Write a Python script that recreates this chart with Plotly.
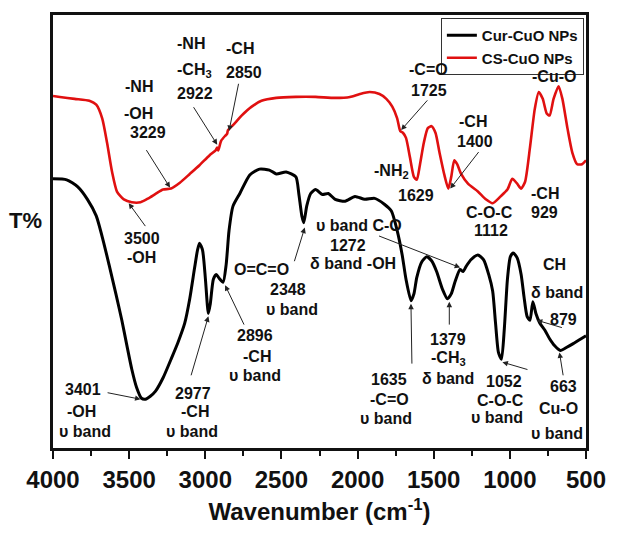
import plotly.graph_objects as go

# ---------------- data (wavenumber in cm-1, transmittance in arbitrary units) ----------------
red_wn = [4000, 3955, 3858, 3761, 3716, 3677, 3645, 3612, 3580, 3535, 3483, 3425, 3374, 3322, 3277,
          3225, 3167, 3102, 3038, 2973, 2934, 2922, 2915, 2896, 2870, 2857, 2851, 2818, 2760, 2695,
          2631, 2534, 2405, 2276, 2147, 2050, 1985, 1920, 1856, 1811, 1772, 1740, 1720, 1701, 1682,
          1656, 1630, 1611, 1591, 1565, 1539, 1514, 1488, 1462, 1430, 1404, 1385, 1365, 1346, 1320,
          1275, 1210, 1158, 1113, 1061, 1016, 984, 952, 926, 900, 868, 836, 810, 784, 758, 739, 713,
          680, 655, 622, 590, 558, 526, 500]
red_t = [361, 360, 358, 356, 352, 338, 313, 283, 263, 255, 252, 252, 256, 261, 265,
         266, 272, 281, 290, 300, 305, 308, 305, 315, 320, 322, 326, 331, 341, 350,
         356, 359, 360, 360, 359, 360, 363, 365, 363, 358, 350, 338, 325, 323, 318,
         298, 278, 275, 290, 313, 328, 330, 323, 303, 280, 266, 278, 295, 291, 281,
         271, 263, 255, 251, 258, 265, 276, 271, 266, 273, 308, 348, 365, 358, 343, 341, 358,
         371, 358, 328, 303, 291, 291, 295]

black_wn = [4000, 3910, 3839, 3774, 3716, 3671, 3632, 3587, 3548, 3516, 3483, 3451, 3419, 3393, 3361,
            3328, 3277, 3225, 3180, 3135, 3102, 3070, 3051, 3038, 3018, 2999, 2980, 2967, 2947, 2928,
            2909, 2883, 2863, 2844, 2818, 2773, 2708, 2644, 2579, 2534, 2469, 2405, 2386, 2366, 2353,
            2334, 2308, 2276, 2231, 2192, 2147, 2082, 2017, 1953, 1888, 1824, 1778, 1740, 1707, 1682,
            1649, 1630, 1611, 1578, 1546, 1514, 1481, 1443, 1410, 1385, 1359, 1327, 1307, 1288, 1256,
            1210, 1172, 1139, 1113, 1094, 1075, 1055, 1036, 1016, 997, 978, 952, 926, 907, 887, 868,
            849, 829, 803, 771, 739, 707, 668, 629, 584, 532, 500]
black_t = [276, 275, 268, 255, 238, 213, 188, 158, 131, 106, 81, 62, 51, 50, 53,
           58, 72, 91, 108, 128, 153, 185, 203, 210, 203, 173, 138, 148, 173, 178,
           174, 170, 188, 223, 248, 261, 280, 286, 285, 281, 283, 278, 261, 238, 231,
           248, 261, 265, 260, 261, 255, 253, 258, 255, 256, 250, 243, 223, 198, 173,
           151, 158, 175, 191, 196, 192, 181, 163, 153, 158, 171, 183, 181, 186, 193,
           198, 193, 178, 161, 128, 98, 91, 123, 173, 196, 200, 195, 178, 155, 135, 131,
           150, 138, 128, 121, 112, 105, 100, 103, 107, 112, 115]

series_names = ["Cur-CuO NPs", "CS-CuO NPs"]
x_tickvals = [4000, 3500, 3000, 2500, 2000, 1500, 1000, 500]

# ---------------- helpers for label placement (pixel -> data) ----------------
L, R, T, B = 53, 595, 14, 458
def WX(px):
    return 4000 - (px - L) * 3500.0 / (R - L)
def WY(py):
    return B - py

FONT = "Liberation Sans, Arial, sans-serif"

fig = go.Figure()
fig.add_trace(go.Scatter(x=black_wn, y=black_t, mode="lines", name=series_names[0],
                         line=dict(color="black", width=3, shape="spline", smoothing=0.6)))
fig.add_trace(go.Scatter(x=red_wn, y=red_t, mode="lines", name=series_names[1],
                         line=dict(color="#e01010", width=2.6, shape="spline", smoothing=0.6)))

labels = [
    # red curve
    ("-NH", 140, 87), ("-OH", 140, 115), ("3229", 150, 134),
    ("-NH", 193, 43), ("-CH<sub>3</sub>", 197, 71), ("2922", 197, 95),
    ("-CH", 243, 48), ("2850", 247, 73),
    ("3500", 143, 243), ("-OH", 143, 263),
    ("-C=O", 435, 70), ("1725", 435, 91),
    ("-NH<sub>2</sub>", 397, 174), ("1629", 422, 199),
    ("-CH", 480, 123), ("1400", 482, 144),
    ("C-O-C", 497, 217), ("1112", 498, 235),
    ("-CH", 553, 197), ("929", 553, 216),
    ("-Cu-O", 562, 77),
    # black curve
    ("O=C=O", 265, 275), ("2348", 292, 295), ("υ band", 296, 316),
    ("υ band C-O", 364, 230), ("1272", 353, 250), ("δ band -OH", 358, 269),
    ("1635", 395, 388), ("-C=O", 395, 408), ("υ band", 392, 428),
    ("1379", 455, 347), ("-CH<sub>3</sub>", 455, 366), ("δ band", 455, 387),
    ("1052", 512, 390), ("C-O-C", 508, 409), ("υ band", 505, 427),
    ("663", 572, 395), ("Cu-O", 567, 417), ("υ band", 565, 443),
    ("CH", 563, 270), ("δ band", 565, 299), ("879", 572, 326),
    ("3401", 83, 398), ("-OH", 82, 421), ("υ band", 86, 441),
    ("2977", 195, 402), ("-CH", 197, 421), ("υ band", 194, 441),
    ("2896", 258, 343), ("-CH", 260, 364), ("υ band", 258, 384),
]
arrows = [  # (tail px, tail py, head px, head py)
    (147, 151, 172, 191), (195, 107, 220, 147), (242, 83, 232, 133), (148, 232, 130, 207),
    (435, 100, 407, 132), (487, 153, 457, 192),
    (298, 268, 309, 232), (383, 240, 467, 273), (418, 373, 417, 310), (456, 333, 456, 308),
    (537, 378, 510, 370), (572, 385, 568, 360), (572, 335, 545, 327),
    (107, 401, 142, 408), (193, 385, 211, 323), (248, 333, 228, 291),
]

annotations = []
for txt, px, py in labels:
    annotations.append(dict(x=WX(px), y=WY(py), xref="x", yref="y", text=txt, showarrow=False,
                            xanchor="center", yanchor="middle",
                            font=dict(family=FONT, size=16, color="#111", weight="bold")))
for tx, ty, hx, hy in arrows:
    annotations.append(dict(x=WX(hx), y=WY(hy), ax=WX(tx), ay=WY(ty), xref="x", yref="y",
                            axref="x", ayref="y", text="", showarrow=True, arrowhead=2,
                            arrowsize=1.1, arrowwidth=1, arrowcolor="#222"))
annotations.append(dict(x=-0.052, y=0.525, xref="paper", yref="paper", text="T%", showarrow=False,
                        xanchor="center", yanchor="middle",
                        font=dict(family=FONT, size=22, color="#111", weight="bold")))

fig.update_layout(
    width=618, height=533,
    margin=dict(l=L, r=618 - R, t=T, b=533 - B),
    paper_bgcolor="white", plot_bgcolor="white",
    font=dict(family=FONT, color="#111", weight="bold"),
    showlegend=True,
    legend=dict(x=0.996, y=0.993, xanchor="right", yanchor="top", bgcolor="white",
                bordercolor="#333", borderwidth=1, font=dict(family=FONT, size=15, weight="bold"),
                tracegroupgap=0, itemwidth=30),
    annotations=annotations,
)
fig.update_xaxes(range=[4000, 500], tickvals=x_tickvals, ticks="outside", ticklen=8, tickwidth=2,
                 tickcolor="#111", showline=True, linewidth=2.5, linecolor="#111", mirror=True,
                 showgrid=False, zeroline=False,
                 tickfont=dict(family=FONT, size=24, weight="bold", color="#111"),
                 minor=dict(dtick=250, tick0=500, ticks="outside", ticklen=5, tickwidth=2, tickcolor="#111"),
                 title=dict(text="Wavenumber (cm<sup>-1</sup>)", standoff=12,
                            font=dict(family=FONT, size=24, weight="bold", color="#111")))
fig.update_yaxes(range=[0, 444], showticklabels=False, ticks="", showline=True, linewidth=2.5,
                 linecolor="#111", mirror=True, showgrid=False, zeroline=False)

fig.write_html("out.html")
